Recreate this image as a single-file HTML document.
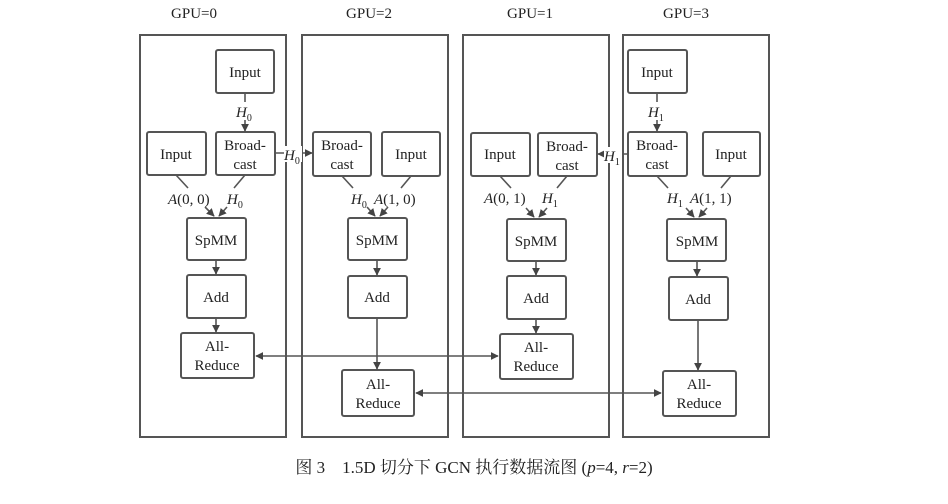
<!DOCTYPE html>
<html><head><meta charset="utf-8"><style>
html,body{margin:0;padding:0;background:#fff;}
svg text{font-family:"Liberation Serif","Noto Serif CJK SC",serif;fill:#222;}
</style></head><body>
<svg width="948" height="499" viewBox="0 0 948 499" xmlns="http://www.w3.org/2000/svg">
<defs>
<marker id="a" viewBox="0 0 10 10" refX="9" refY="5" markerWidth="5" markerHeight="5" orient="auto-start-reverse"><path d="M0,0L10,5L0,10z" fill="#444"/></marker>
</defs>
<g font-size="15" text-anchor="middle">
<text x="194" y="18">GPU=0</text><text x="369" y="18">GPU=2</text><text x="530" y="18">GPU=1</text><text x="686" y="18">GPU=3</text>
</g>
<g fill="none" stroke="#555" stroke-width="2">
<rect x="140" y="35" width="146" height="402"/>
<rect x="302" y="35" width="146" height="402"/>
<rect x="463" y="35" width="146" height="402"/>
<rect x="623" y="35" width="146" height="402"/>
</g>
<g fill="#fff" stroke="#555" stroke-width="2">
<rect x="216" y="50" width="58" height="43" rx="2"/>
<rect x="216" y="132" width="59" height="43" rx="2"/>
<rect x="147" y="132" width="59" height="43" rx="2"/>
<rect x="187" y="218" width="59" height="42" rx="2"/>
<rect x="187" y="275" width="59" height="43" rx="2"/>
<rect x="181" y="333" width="73" height="45" rx="2"/>
<rect x="313" y="132" width="58" height="44" rx="2"/>
<rect x="382" y="132" width="58" height="44" rx="2"/>
<rect x="348" y="218" width="59" height="42" rx="2"/>
<rect x="348" y="276" width="59" height="42" rx="2"/>
<rect x="342" y="370" width="72" height="46" rx="2"/>
<rect x="471" y="133" width="59" height="43" rx="2"/>
<rect x="538" y="133" width="59" height="43" rx="2"/>
<rect x="507" y="219" width="59" height="42" rx="2"/>
<rect x="507" y="276" width="59" height="43" rx="2"/>
<rect x="500" y="334" width="73" height="45" rx="2"/>
<rect x="628" y="50" width="59" height="43" rx="2"/>
<rect x="628" y="132" width="59" height="44" rx="2"/>
<rect x="703" y="132" width="57" height="44" rx="2"/>
<rect x="667" y="219" width="59" height="42" rx="2"/>
<rect x="669" y="277" width="59" height="43" rx="2"/>
<rect x="663" y="371" width="73" height="45" rx="2"/>
</g>
<g stroke="#555" stroke-width="1.6" fill="none">
<line x1="176" y1="175" x2="188" y2="188"/>
<line x1="245" y1="175" x2="234" y2="188"/>
<line x1="342" y1="176" x2="353" y2="188"/>
<line x1="411" y1="176" x2="401" y2="188"/>
<line x1="500" y1="176" x2="511" y2="188"/>
<line x1="567" y1="176" x2="557" y2="188"/>
<line x1="657" y1="176" x2="668" y2="188"/>
<line x1="731" y1="176" x2="721" y2="188"/>
</g>
<g stroke="#555" stroke-width="1.6" fill="none" marker-end="url(#a)">
<line x1="245" y1="93" x2="245" y2="131"/>
<line x1="205" y1="207" x2="214" y2="216"/>
<line x1="227" y1="207" x2="219" y2="216"/>
<line x1="275" y1="153" x2="312" y2="153"/>
<line x1="216" y1="260" x2="216" y2="274"/>
<line x1="216" y1="318" x2="216" y2="332"/>
<line x1="367" y1="207" x2="375" y2="216"/>
<line x1="388" y1="207" x2="380" y2="216"/>
<line x1="377" y1="260" x2="377" y2="275"/>
<line x1="377" y1="318" x2="377" y2="369"/>
<line x1="526" y1="208" x2="534" y2="217"/>
<line x1="547" y1="208" x2="539" y2="217"/>
<line x1="628" y1="154" x2="598" y2="154"/>
<line x1="536" y1="261" x2="536" y2="275"/>
<line x1="536" y1="319" x2="536" y2="333"/>
<line x1="657" y1="93" x2="657" y2="131"/>
<line x1="686" y1="208" x2="694" y2="217"/>
<line x1="707" y1="208" x2="699" y2="217"/>
<line x1="697" y1="261" x2="697" y2="276"/>
<line x1="698" y1="320" x2="698" y2="370"/>
<line x1="256" y1="356" x2="498" y2="356" marker-start="url(#a)"/>
<line x1="416" y1="393" x2="661" y2="393" marker-start="url(#a)"/>
</g>
<g font-size="15" text-anchor="middle">
<text x="245" y="77">Input</text>
<text x="176" y="159">Input</text>
<text x="245" y="150">Broad-</text><text x="245" y="169">cast</text>
<text x="216" y="245">SpMM</text>
<text x="216" y="302">Add</text>
<text x="217" y="351">All-</text><text x="217" y="370">Reduce</text>
<text x="342" y="150">Broad-</text><text x="342" y="169">cast</text>
<text x="411" y="159">Input</text>
<text x="377" y="245">SpMM</text>
<text x="377" y="302">Add</text>
<text x="378" y="389">All-</text><text x="378" y="408">Reduce</text>
<text x="500" y="159">Input</text>
<text x="567" y="151">Broad-</text><text x="567" y="170">cast</text>
<text x="536" y="246">SpMM</text>
<text x="536" y="303">Add</text>
<text x="536" y="352">All-</text><text x="536" y="371">Reduce</text>
<text x="657" y="77">Input</text>
<text x="657" y="150">Broad-</text><text x="657" y="169">cast</text>
<text x="731" y="159">Input</text>
<text x="697" y="246">SpMM</text>
<text x="698" y="304">Add</text>
<text x="699" y="389">All-</text><text x="699" y="408">Reduce</text>
</g>
<g font-size="15">
<rect x="236" y="102" width="18" height="18" fill="#fff"/>
<text x="236" y="117" font-style="italic">H<tspan font-size="10" font-style="normal" dy="4">0</tspan></text>
<rect x="284" y="146" width="18" height="16" fill="#fff"/>
<text x="284" y="160" font-style="italic">H<tspan font-size="10" font-style="normal" dy="4">0</tspan></text>
<text x="168" y="204"><tspan font-style="italic">A</tspan>(0, 0)</text>
<text x="227" y="204" font-style="italic">H<tspan font-size="10" font-style="normal" dy="4">0</tspan></text>
<text x="351" y="204" font-style="italic">H<tspan font-size="10" font-style="normal" dy="4">0</tspan></text>
<text x="374" y="204"><tspan font-style="italic">A</tspan>(1, 0)</text>
<text x="484" y="203"><tspan font-style="italic">A</tspan>(0, 1)</text>
<text x="542" y="203" font-style="italic">H<tspan font-size="10" font-style="normal" dy="4">1</tspan></text>
<rect x="604" y="147" width="18" height="16" fill="#fff"/>
<text x="604" y="161" font-style="italic">H<tspan font-size="10" font-style="normal" dy="4">1</tspan></text>
<rect x="648" y="102" width="18" height="18" fill="#fff"/>
<text x="648" y="117" font-style="italic">H<tspan font-size="10" font-style="normal" dy="4">1</tspan></text>
<text x="667" y="203" font-style="italic">H<tspan font-size="10" font-style="normal" dy="4">1</tspan></text>
<text x="690" y="203"><tspan font-style="italic">A</tspan>(1, 1)</text>
</g>
<text x="474" y="473" font-size="17" text-anchor="middle">图 3　1.5D 切分下 GCN 执行数据流图 (<tspan font-style="italic">p</tspan>=4, <tspan font-style="italic">r</tspan>=2)</text>
</svg>
</body></html>
